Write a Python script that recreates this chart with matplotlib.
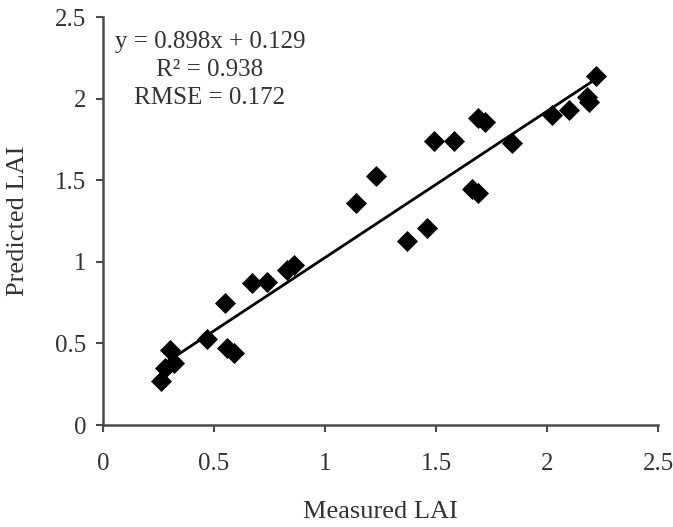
import matplotlib
matplotlib.use("Agg")
import matplotlib.pyplot as plt
import numpy as np

measured = [0.26, 0.28, 0.30, 0.32, 0.47, 0.55, 0.56, 0.59, 0.67, 0.74, 0.83, 0.86,
            1.14, 1.23, 1.37, 1.46, 1.49, 1.58, 1.66, 1.69, 1.69, 1.72, 1.84, 2.02,
            2.10, 2.18, 2.19, 2.22]
predicted = [0.27, 0.35, 0.46, 0.38, 0.53, 0.75, 0.47, 0.44, 0.87, 0.88, 0.95, 0.98,
             1.36, 1.53, 1.13, 1.21, 1.74, 1.74, 1.45, 1.42, 1.88, 1.86, 1.73, 1.90,
             1.93, 2.01, 1.98, 2.14]
slope, intercept = 0.898, 0.129
ticks = [0, 0.5, 1, 1.5, 2, 2.5]
tick_labels = ["0", "0.5", "1", "1.5", "2", "2.5"]
stats_lines = ["y = 0.898x + 0.129", "R\u00b2 = 0.938", "RMSE = 0.172"]

plt.rcParams['font.family'] = ['Liberation Serif', 'DejaVu Serif']
fig = plt.figure(figsize=(6.73, 5.27), dpi=100)
ax = fig.add_axes([0.153, 0.1935, 0.825, 0.7735])

ax.scatter(measured, predicted, marker='D', s=115, color='black', zorder=3, linewidths=0)
xs = np.array([min(measured), max(measured)])
ax.plot(xs, slope * xs + intercept, color='black', lw=2.0, zorder=2)

ax.set_xlim(0, 2.5)
ax.set_ylim(0, 2.5)
ax.set_xticks(ticks)
ax.set_xticklabels(tick_labels)
ax.set_yticks(ticks)
ax.set_yticklabels(tick_labels)
for s in ['top', 'right']:
    ax.spines[s].set_visible(False)
for s in ['left', 'bottom']:
    ax.spines[s].set_color('#4a4a4a')
    ax.spines[s].set_linewidth(1.8)
ax.tick_params(axis='both', direction='out', length=5, width=1.5, color='#4a4a4a',
               labelsize=18, labelcolor='#333333')
ax.tick_params(axis='y', pad=7)
ax.tick_params(axis='x', pad=15)
ax.set_xlabel('Measured LAI', fontsize=19, color='#333333', va='center')
ax.set_ylabel('Predicted LAI', fontsize=19, color='#333333', va='center')
ax.xaxis.set_label_coords(0.5, -0.2135)
ax.yaxis.set_label_coords(-0.153, 0.5)

for yv, line in zip([2.35, 2.18, 2.006], stats_lines):
    ax.text(0.482, yv, line, ha='center', va='center', fontsize=18, color='#333333')

fig.savefig('out.png', dpi=100)
